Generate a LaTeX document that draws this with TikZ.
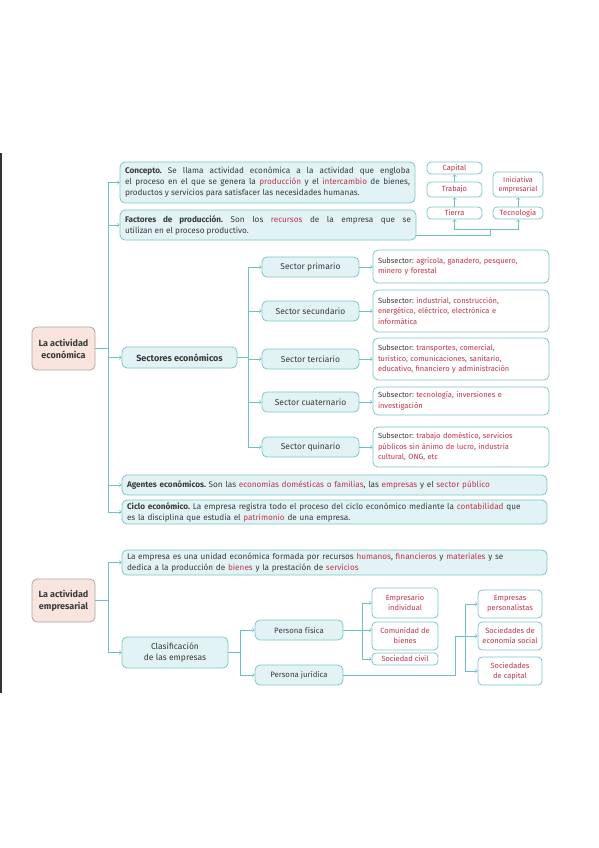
\documentclass[tikz,border=0pt]{standalone}
\usepackage{fontspec}
\setmainfont{Fira Sans}
\usepackage{tikz}
\usepackage{xcolor}
\definecolor{boxfill}{HTML}{E2F3F5}
\definecolor{boxline}{HTML}{7CC6C9}
\definecolor{linkline}{HTML}{6FBFC3}
\definecolor{redtxt}{HTML}{C0344A}
\definecolor{pinkfill}{HTML}{FAE4DE}
\definecolor{pinkline}{HTML}{A8A8A8}
\definecolor{txt}{HTML}{3A3A3A}
\newcommand{\rd}[1]{\textcolor{redtxt}{#1}}
\frenchspacing

\begin{document}
\begin{tikzpicture}[x=1pt,y=-1pt,
  cbox/.style={draw=boxline,fill=boxfill,line width=0.8pt,rounded corners=5pt,text=txt,inner xsep=5pt,inner ysep=1pt,align=left,font=\fontsize{8.2}{11}\selectfont},
  subbox/.style={cbox,fill=white,text width=166pt,font=\fontsize{7.5}{10.5}\selectfont},
  sbox/.style={cbox,align=center,inner xsep=1pt,minimum width=97pt,minimum height=20pt,font=\fontsize{8.5}{11}\selectfont},
  wbox/.style={draw=boxline,fill=white,line width=0.8pt,rounded corners=4pt,text=redtxt,inner sep=1pt,align=center,font=\fontsize{7.5}{10}\selectfont},
  pbox/.style={draw=pinkline,fill=pinkfill,line width=0.8pt,rounded corners=5pt,text=txt,align=center,inner sep=1pt,minimum width=63pt,minimum height=43pt,font=\bfseries\fontsize{9}{12}\selectfont},
  link/.style={draw=linkline,line width=0.7pt}]
\useasboundingbox (0,0) rectangle (599,848);
\draw[line width=2pt,black!80] (1,153) -- (1,693);

% la actividad economica
\node[pbox] (economica) at (63.5,348.5) {La actividad\\económica};
\node[cbox,align=justify,text width=285pt,minimum height=41pt] (concepto) at (267.5,182.5) {\textbf{Concepto.} Se llama actividad económica a la actividad que engloba\linebreak el proceso en el que se genera la \rd{producción} y el \rd{intercambio} de bienes,\linebreak productos y servicios para satisfacer las necesidades humanas.};
\node[cbox,align=justify,text width=286pt,minimum height=30pt] (factores) at (268,225) {\textbf{Factores de producción.} Son los \rd{recursos} de la empresa que se\linebreak utilizan en el proceso productivo.};
\node[wbox,minimum width=55pt,minimum height=12pt] (capital) at (454.5,168) {Capital};
\node[wbox,minimum width=55pt,minimum height=15pt] (trabajo) at (454.5,189.5) {Trabajo};
\node[wbox,minimum width=55pt,minimum height=12pt] (tierra) at (454.5,213) {Tierra};
\node[wbox,minimum width=50pt,minimum height=25pt,font=\fontsize{7.2}{9}\selectfont] (iniciativa) at (518,184.5) {Iniciativa\\empresarial};
\node[wbox,minimum width=50pt,minimum height=12pt] (tecnologia) at (518,213) {Tecnología};

\node[sbox,minimum width=115pt,minimum height=21pt,font=\bfseries\fontsize{9}{11}\selectfont] (sectores) at (179.5,357.5) {Sectores económicos};
\node[sbox] (primario) at (310.5,267) {Sector primario};
\node[sbox] (secundario) at (310.5,311) {Sector secundario};
\node[sbox] (terciario) at (310.5,359) {Sector terciario};
\node[sbox] (cuaternario) at (310.5,402) {Sector cuaternario};
\node[sbox] (quinario) at (310.5,447) {Sector quinario};
\node[subbox,minimum height=33pt] (subprim) at (461,266.5) {Subsector: \rd{agrícola, ganadero, pesquero,}\\\rd{minero y forestal}};
\node[subbox,minimum height=42pt] (subsec) at (461,311) {Subsector: \rd{industrial, construcción,}\\\rd{energético, eléctrico, electrónica e}\\\rd{informática}};
\node[subbox,minimum height=42pt] (subter) at (461,359) {Subsector: \rd{transportes, comercial,}\\\rd{turístico, comunicaciones, sanitario,}\\\rd{educativo, financiero y administración}};
\node[subbox,minimum height=28pt] (subcua) at (461,401) {Subsector: \rd{tecnología, inversiones e}\\\rd{investigación}};
\node[subbox,minimum height=40pt] (subqui) at (461,447) {Subsector: \rd{trabajo doméstico, servicios}\\\rd{públicos sin ánimo de lucro, industria}\\\rd{cultural, ONG, etc}};

\node[cbox,text width=415pt,minimum height=20pt] (agentes) at (334.5,485) {\textbf{Agentes económicos.} Son las \rd{economías domésticas o familias}, las \rd{empresas} y el \rd{sector público}};
\node[cbox,text width=415pt,minimum height=24pt] (ciclo) at (334.5,512) {\textbf{Ciclo económico.} La empresa registra todo el proceso del ciclo económico mediante la \rd{contabilidad} que\\es la disciplina que estudia el \rd{patrimonio} de una empresa.};

% la actividad empresarial
\node[pbox] (empresarial) at (63.5,600.5) {La actividad\\empresarial};
\node[cbox,text width=415pt,minimum height=25pt] (empresa) at (334.5,562.5) {La empresa es una unidad económica formada por recursos \rd{humanos}, \rd{financieros} y \rd{materiales} y se\\dedica a la producción de \rd{bienes} y la prestación de \rd{servicios}};
\node[sbox,minimum width=106pt,minimum height=31pt] (clasificacion) at (175,652.5) {Clasificación\\de las empresas};
\node[sbox,minimum width=88pt,font=\fontsize{7.8}{10}\selectfont] (fisica) at (299,630) {Persona física};
\node[sbox,minimum width=88pt,font=\fontsize{7.8}{10}\selectfont] (juridica) at (299,675) {Persona jurídica};
\node[wbox,minimum width=66pt,minimum height=30pt] (empresario) at (405,603) {Empresario\\individual};
\node[wbox,minimum width=66pt,minimum height=28pt] (comunidad) at (405,636) {Comunidad de\\bienes};
\node[wbox,minimum width=66pt,minimum height=12pt] (civil) at (405,659) {Sociedad civil};
\node[wbox,minimum width=64pt,minimum height=28pt] (personalistas) at (510,604) {Empresas\\personalistas};
\node[wbox,minimum width=64pt,minimum height=28pt] (social) at (510,636) {Sociedades de\\economía social};
\node[wbox,minimum width=64pt,minimum height=28pt] (capsoc) at (510,671) {Sociedades\\de capital};

% connectors
\coordinate (t1) at (108,348.5);
\draw[link] (economica) -- (t1);
\draw[link,->] (t1) |- (concepto);
\draw[link,->] (t1) |- (factores);
\draw[link,->] (t1) |- (sectores);
\draw[link,->] (t1) |- (agentes);
\draw[link,->] (t1) |- (ciclo);

\coordinate (fy) at (0,235);
\coordinate (fj) at (490,229);
\draw[link] (factores.east |- fy) -| (fj);
\draw[link,->] (fj) -| (tierra);
\draw[link,->] (fj) -| (tecnologia);
\draw[link,->] (tierra) -- (trabajo);
\draw[link,->] (trabajo) -- (capital);
\draw[link,->] (tecnologia) -- (iniciativa);

\coordinate (t2) at (248,357.5);
\draw[link] (sectores) -- (t2);
\foreach \s/\u in {primario/subprim,secundario/subsec,terciario/subter,cuaternario/subcua,quinario/subqui}{
  \draw[link,->] (t2) |- (\s);
  \draw[link,->] (\s.east) -- (\s.east -| \u.west);
}

\coordinate (t3) at (108,600.5);
\draw[link] (empresarial) -- (t3);
\draw[link,->] (t3) |- (empresa);
\draw[link,->] (t3) |- (clasificacion);

\coordinate (t4) at (240,652.5);
\draw[link] (clasificacion) -- (t4);
\draw[link,->] (t4) |- (fisica);
\draw[link,->] (t4) |- (juridica);

\coordinate (t5) at (362,630);
\draw[link,->] (fisica.east) -- (fisica.east -| comunidad.west);
\draw[link,->] (t5) |- (empresario);
\draw[link,->] (t5) |- (civil);

\coordinate (t6) at (455,636);
\coordinate (t7) at (465,636);
\draw[link] (juridica.east) -| (t6);
\draw[link,->] (t6) -- (social);
\draw[link,->] (t7) |- (personalistas);
\draw[link,->] (t7) |- (capsoc);
\end{tikzpicture}
\end{document}
